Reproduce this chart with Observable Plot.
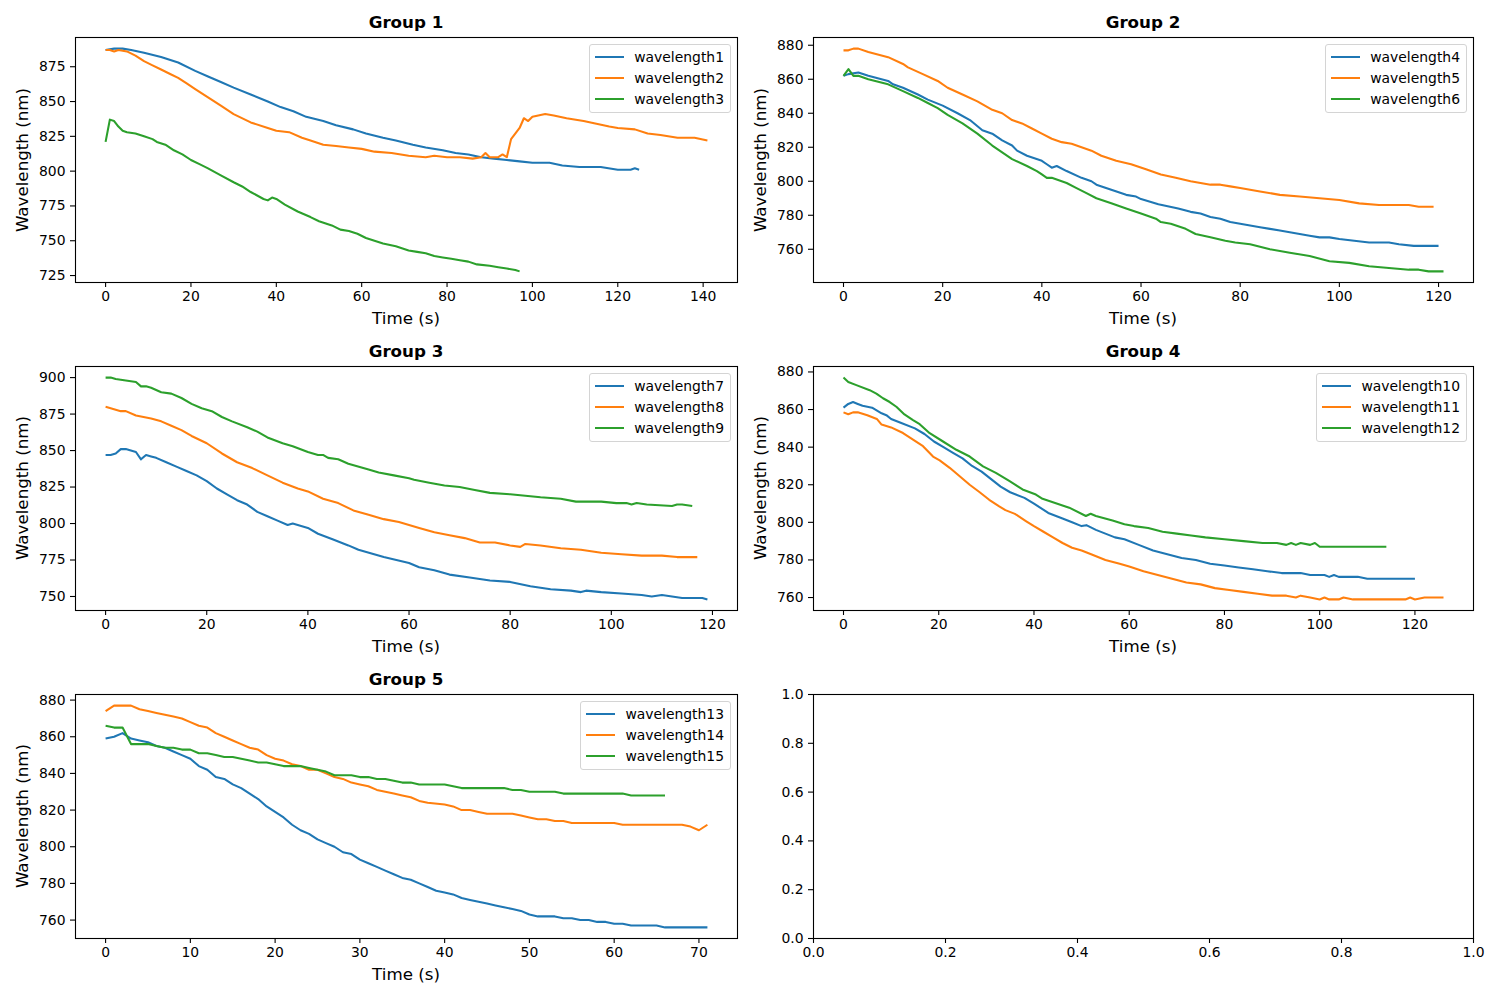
<!DOCTYPE html>
<html>
<head>
<meta charset="utf-8">
<script src="https://cdn.jsdelivr.net/npm/d3@7"></script>
<script src="https://cdn.jsdelivr.net/npm/@observablehq/plot@0.6"></script>
<style>
  html, body { margin: 0; padding: 0; background: #fff; }
  #fig { position: relative; width: 1500px; height: 1000px; font-family: "DejaVu Sans", sans-serif; color: #000; overflow: hidden; }
  .plotbox { position: absolute; }
  .title { position: absolute; font-weight: bold; font-size: 16.7px; line-height: 20px; text-align: center; white-space: nowrap; transform: translateX(-50%); }
  .xlabel { position: absolute; font-size: 16.7px; line-height: 20px; white-space: nowrap; transform: translateX(-50%); }
  .ylabel { position: absolute; font-size: 16.7px; line-height: 20px; white-space: nowrap; transform: translate(-50%, -50%) rotate(-90deg); }
  .legend { position: absolute; border: 1px solid #d4d4d4; border-radius: 3px; background: rgba(255,255,255,0.8); padding: 2px 6px 3px 5px; font-size: 13.9px; }
  .legend .row { display: flex; align-items: center; height: 20.8px; white-space: nowrap; }
  .legend .sw { width: 29px; height: 0; border-top: 2.1px solid; margin-right: 10px; }
</style>
</head>
<body>
<div id="fig"></div>
<script>
// ---------------- DATA ----------------
const titles = ["Group 1", "Group 2", "Group 3", "Group 4", "Group 5"];
const seriesNames = [
  ["wavelength1", "wavelength2", "wavelength3"],
  ["wavelength4", "wavelength5", "wavelength6"],
  ["wavelength7", "wavelength8", "wavelength9"],
  ["wavelength10", "wavelength11", "wavelength12"],
  ["wavelength13", "wavelength14", "wavelength15"]
];
const colors = ["#1f77b4", "#ff7f0e", "#2ca02c"];

// [time (s), wavelength (nm)]
const wavelength1 = [[0,887],[2,888],[4,888],[6,887],[9,885],[13,882],[17,878],[21,872],[24,868],[27,864],[30,860],[34,855],[38,850],[41,846],[44,843],[47,839],[51,836],[54,833],[58,830],[61,827],[65,824],[68,822],[72,819],[75,817],[79,815],[82,813],[85,812],[88,810],[91,809],[94,808],[97,807],[100,806],[104,806],[107,804],[111,803],[116,803],[120,801],[123,801],[124,802],[125,801]];
const wavelength2 = [[0,887],[1,887],[2,886],[3,887],[5,886],[7,883],[9,879],[11,876],[13,873],[15,870],[17,867],[19,863],[21,859],[24,853],[27,847],[30,841],[34,835],[38,831],[40,829],[43,828],[46,824],[48,822],[51,819],[54,818],[57,817],[60,816],[63,814],[67,813],[71,811],[75,810],[77,811],[80,810],[83,810],[86,809],[88,810],[89,813],[90,810],[92,810],[93,812],[94,810],[95,823],[97,831],[98,838],[99,836],[100,839],[103,841],[105,840],[108,838],[112,836],[115,834],[118,832],[120,831],[124,830],[127,827],[130,826],[134,824],[138,824],[141,822]];
const wavelength3 = [[0,821],[1,837],[2,836],[3,832],[4,829],[5,828],[7,827],[9,825],[11,823],[12,821],[14,819],[16,815],[18,812],[20,808],[22,805],[24,802],[27,797],[30,792],[32,789],[34,785],[37,780],[38,779],[39,781],[40,780],[42,776],[45,771],[48,767],[50,764],[53,761],[55,758],[57,757],[59,755],[61,752],[63,750],[65,748],[68,746],[71,743],[73,742],[75,741],[77,739],[79,738],[81,737],[83,736],[85,735],[87,733],[90,732],[92,731],[94,730],[96,729],[97,728]];

const wavelength4 = [[0,862],[1,863],[3,864],[5,862],[9,859],[10,857],[12,855],[15,851],[17,848],[20,844.5],[23,840],[25.5,836],[28,830],[30,828],[32,824],[34,821],[35,818],[37,815],[40,812],[41,810],[42,808],[43,809],[45,806],[48,802],[50,800],[51,798],[54,795],[57,792],[59,791],[60,789.5],[63.5,786.5],[67.5,784],[70,782],[72,781],[74,779],[76,778],[78,776],[80,775],[82,774],[84,773],[86,772],[88,771],[90,770],[92,769],[94,768],[96,767],[98,767],[100,766],[103,765],[106,764],[110,764],[112,763],[115,762],[120,762]];
const wavelength5 = [[0,877],[1,877],[2,878],[3,878],[5,876],[9,873],[12,869],[13,867],[16,863],[19,859],[21,855],[24,851],[27,847],[30,842],[32,840],[34,836],[36,834],[38,831],[40,828],[42,825],[44,823],[46,822],[48,820],[50,818],[52,815],[55,812],[58,810],[61,807],[64,804],[67,802],[70,800],[72,799],[74,798],[76,798],[78,797],[80,796],[84,794],[88,792],[92,791],[96,790],[100,789],[104,787],[108,786],[114,786],[116,785],[119,785]];
const wavelength6 = [[0,862],[1,866],[2,862],[3,862],[5,860],[9,857],[12,853],[15,849],[17,846],[19,843],[21,839],[24,834],[27,828],[30,821],[32,817],[34,813],[37,809],[39,806],[40,804],[41,802],[42,802],[45,799],[47,796],[49,793],[51,790],[54,787],[57,784],[60,781],[63,778],[64,776],[66,775],[69,772],[71,769],[74,767],[77,765],[79,764],[82,763],[86,760],[90,758],[94,756],[98,753],[102,752],[106,750],[110,749],[114,748],[116,748],[118,747],[121,747]];

const wavelength7 = [[0,847],[1,847],[2,848],[3,851],[4,851],[5,850],[6,849],[7,844],[8,847],[9,846],[10,845],[12,842],[14,839],[16,836],[18,833],[20,829],[22,824],[24,820],[26,816],[28,813],[30,808],[32,805],[34,802],[36,799],[37,800],[38,799],[40,797],[42,793],[45,789],[48,785],[50,782],[55,777],[60,773],[62,770],[65,768],[68,765],[72,763],[76,761],[80,760],[84,757],[88,755],[92,754],[94,753],[95,754],[98,753],[102,752],[106,751],[108,750],[110,751],[114,749],[118,749],[119,748]];
const wavelength8 = [[0,880],[1,879],[3,877],[4,877],[6,874],[9,872],[11,870],[13,867],[15,864],[17,860],[20,855],[23,848],[26,842],[29,838],[32,833],[35,828],[38,824],[40,822],[43,817],[46,814],[49,809],[52,806],[55,803],[58,801],[60,799],[62,797],[65,794],[68,792],[71,790],[74,787],[77,787],[80,785],[82,784],[83,786],[86,785],[90,783],[94,782],[96,781],[98,780],[102,779],[106,778],[110,778],[113,777],[117,777]];
const wavelength9 = [[0,900],[1,900],[2,899],[4,898],[6,897],[7,894],[8,894],[9,893],[11,890],[13,889],[15,886],[17,882],[19,879],[21,877],[23,873],[25,870],[28,866],[30,863],[32,859],[35,855],[37,853],[40,849],[42,847],[43,847],[44,845],[46,844],[48,841],[52,837],[54,835],[57,833],[60,831],[61,830],[64,828],[67,826],[70,825],[73,823],[76,821],[80,820],[83,819],[86,818],[90,817],[93,815],[98,815],[101,814],[103,814],[104,813],[105,814],[107,813],[112,812],[113,813],[114,813],[116,812]];

const wavelength10 = [[0,861],[1,863],[2,864],[3,863],[4,862],[6,861],[8,858],[9,857],[10,855],[12,853],[15,850],[17,847],[19,843],[21,840],[23,837],[25,834],[27,830],[29,827],[31,823],[33,819],[35,816],[38,813],[40,810],[43,805],[46,802],[48,800],[50,798],[51,798.5],[53,796],[55,794],[57,792],[59,791],[62,788],[65,785],[68,783],[71,781],[74,780],[77,778],[80,777],[83,776],[86,775],[89,774],[92,773],[96,773],[98,772],[101,772],[102,771],[103,772],[104,771],[108,771],[110,770],[120,770]];
const wavelength11 = [[0,858.5],[1,857.5],[2,858.5],[3,858.5],[5,857],[7,855],[8,852],[10,850.5],[12.5,847.5],[14.6,844],[16.7,840.5],[18.8,835],[20.2,833],[22.3,829],[24.4,824.5],[26.5,820],[28.6,816],[30.6,812],[32.7,808.5],[34,806.5],[36,804.5],[38.3,800.7],[40,798],[42,795],[44,792],[46,789],[48,786.5],[50,785],[52,783],[55,780],[58,778],[60,776.5],[63,774],[66,772],[69,770],[72,768],[75,767],[78,765],[81,764],[84,763],[87,762],[90,761],[93,761],[95,760],[96,761],[98,760],[100,759],[101,760],[102,759],[104,759],[105,760],[107,759],[110,759],[118,759],[119,760],[120,759],[122,760],[126,760]];
const wavelength12 = [[0,877],[1,874.7],[2.7,873],[5.5,870.3],[6.9,868.5],[8.3,866],[9.7,864],[11.1,861.5],[12.8,857.4],[14.6,854.4],[16,852.2],[18.1,847.4],[20.9,843],[23.7,838.6],[26.5,835],[29.3,829.8],[32,826.3],[34.8,822],[37.6,817.5],[40.4,814.8],[41.8,812.5],[47.4,807.8],[50.9,803.4],[51.9,804.6],[53,803.4],[56.5,801],[59,799],[61,798],[64,797],[67,795],[70,794],[73,793],[76,792],[80,791],[84,790],[88,789],[91,789],[93,788],[94,789],[95,788],[96,789],[98,788],[99,789],[100,787],[114,787]];

const wavelength13 = [[0,859],[1,860],[2,862],[3,859],[4,858],[5,857],[6,855],[7,854],[8,852],[9,850],[10,848],[11,844],[12,842],[13,838],[14,837],[15,834],[16,832],[17,829],[18,826],[19,822],[20,819],[21,816],[22,812],[23,809],[24,807],[25,804],[26,802],[27,800],[28,797],[29,796],[30,793],[31,791],[32,789],[33,787],[34,785],[35,783],[36,782],[37,780],[38,778],[39,776],[40,775],[41,774],[42,772],[43,771],[44,770],[45,769],[46,768],[47,767],[48,766],[49,765],[50,763],[51,762],[53,762],[54,761],[55,761],[56,760],[57,760],[58,759],[59,759],[60,758],[61,758],[62,757],[65,757],[66,756],[71,756]];
const wavelength14 = [[0,874],[1,877],[2,877],[3,877],[4,875],[5,874],[6,873],[7,872],[8,871],[9,870],[10,868],[11,866],[12,865],[13,862],[14,860],[15,858],[16,856],[17,854],[18,853],[19,850],[20,848],[21,847],[22,845],[23,844],[24,842],[25,842],[26,840],[27,838],[28,837],[29,835],[30,834],[31,833],[32,831],[33,830],[34,829],[35,828],[36,827],[37,825],[38,824],[40,823],[41,822],[42,820],[43,820],[44,819],[45,818],[48,818],[49,817],[50,816],[51,815],[52,815],[53,814],[54,814],[55,813],[60,813],[61,812],[68,812],[69,811],[70,809],[71,812]];
const wavelength15 = [[0,866],[1,865],[2,865],[3,856],[5,856],[6,855],[7,854],[8,854],[9,853],[10,853],[11,851],[12,851],[13,850],[14,849],[15,849],[16,848],[17,847],[18,846],[19,846],[20,845],[21,844],[23,844],[24,843],[25,842],[26,841],[27,839],[29,839],[30,838],[31,838],[32,837],[33,837],[34,836],[35,835],[36,835],[37,834],[40,834],[41,833],[42,832],[47,832],[48,831],[49,831],[50,830],[53,830],[54,829],[61,829],[62,828],[66,828]];

const groupSeries = [
  [wavelength1, wavelength2, wavelength3],
  [wavelength4, wavelength5, wavelength6],
  [wavelength7, wavelength8, wavelength9],
  [wavelength10, wavelength11, wavelength12],
  [wavelength13, wavelength14, wavelength15]
];

// tick values
const xTicks = [
  [0, 20, 40, 60, 80, 100, 120, 140],
  [0, 20, 40, 60, 80, 100, 120],
  [0, 20, 40, 60, 80, 100, 120],
  [0, 20, 40, 60, 80, 100, 120],
  [0, 10, 20, 30, 40, 50, 60, 70]
];
const yTicks = [
  [725, 750, 775, 800, 825, 850, 875],
  [760, 780, 800, 820, 840, 860, 880],
  [750, 775, 800, 825, 850, 875, 900],
  [760, 780, 800, 820, 840, 860, 880],
  [760, 780, 800, 820, 840, 860, 880]
];
const emptyTicks = [0, 0.2, 0.4, 0.6, 0.8, 1.0];

const xLabel = "Time (s)";
const yLabel = "Wavelength (nm)";

// ---------------- LAYOUT ----------------
const cols = [{l: 75, r: 737}, {l: 813, r: 1473}];
const rows = [{t: 37, b: 282}, {t: 366, b: 610}, {t: 694, b: 938}];
const ML = 75, MR = 10, MT = 10, MB = 50;
const fig = document.getElementById("fig");

function padDomain(ext) {
  const m = (ext[1] - ext[0]) * 0.05;
  return [ext[0] - m, ext[1] + m];
}

function addDiv(cls, text, style) {
  const d = document.createElement("div");
  d.className = cls;
  d.textContent = text;
  Object.assign(d.style, style);
  fig.appendChild(d);
  return d;
}

function makePanel(col, row, opts) {
  const c = cols[col], r = rows[row];
  const w = (c.r - c.l) + ML + MR;
  const h = (r.b - r.t) + MT + MB;
  const marks = [];
  (opts.series || []).forEach((s, i) => {
    marks.push(Plot.line(s, {x: d => d[0], y: d => d[1], stroke: colors[i], strokeWidth: 2.08, strokeLinejoin: "round", strokeLinecap: "butt"}));
  });
  marks.push(Plot.frame({stroke: "#000", strokeWidth: 1.1}));
  marks.push(Plot.axisX(opts.xticks, {tickSize: 5, tickPadding: 4, label: null, fontSize: 13.9, tickFormat: opts.fmt, strokeWidth: 1.1}));
  marks.push(Plot.axisY(opts.yticks, {tickSize: 5, tickPadding: 5, label: null, fontSize: 13.9, tickFormat: opts.fmt, strokeWidth: 1.1}));
  const svg = Plot.plot({
    width: w, height: h,
    marginLeft: ML, marginRight: MR, marginTop: MT, marginBottom: MB,
    x: {domain: opts.xdom},
    y: {domain: opts.ydom},
    style: {fontFamily: "DejaVu Sans, sans-serif", fontSize: "13.9px", color: "#000", background: "transparent", overflow: "visible"},
    marks
  });
  const box = document.createElement("div");
  box.className = "plotbox";
  box.style.left = (c.l - ML) + "px";
  box.style.top = (r.t - MT) + "px";
  box.appendChild(svg);
  fig.appendChild(box);
}

groupSeries.forEach((series, g) => {
  const col = g % 2, row = Math.floor(g / 2);
  const c = cols[col], r = rows[row];
  const allX = series.flat().map(d => d[0]);
  const allY = series.flat().map(d => d[1]);
  makePanel(col, row, {
    series,
    xdom: padDomain(d3.extent(allX)),
    ydom: padDomain(d3.extent(allY)),
    xticks: xTicks[g],
    yticks: yTicks[g],
    fmt: d3.format("d")
  });
  addDiv("title", titles[g], {left: ((c.l + c.r) / 2) + "px", top: (r.t - 25) + "px"});
  addDiv("xlabel", xLabel, {left: ((c.l + c.r) / 2) + "px", top: (r.b + 26) + "px"});
  addDiv("ylabel", yLabel, {left: (c.l - 53) + "px", top: ((r.t + r.b) / 2) + "px"});
  const lg = document.createElement("div");
  lg.className = "legend";
  lg.style.right = (1500 - c.r + 6) + "px";
  lg.style.top = (r.t + 7) + "px";
  seriesNames[g].forEach((name, i) => {
    const rw = document.createElement("div");
    rw.className = "row";
    const sw = document.createElement("span");
    sw.className = "sw";
    sw.style.borderTopColor = colors[i];
    const tx = document.createElement("span");
    tx.textContent = name;
    rw.appendChild(sw);
    rw.appendChild(tx);
    lg.appendChild(rw);
  });
  fig.appendChild(lg);
});

// empty sixth axes
makePanel(1, 2, {series: [], xdom: [0, 1], ydom: [0, 1], xticks: emptyTicks, yticks: emptyTicks, fmt: d3.format(".1f")});
</script>
</body>
</html>
